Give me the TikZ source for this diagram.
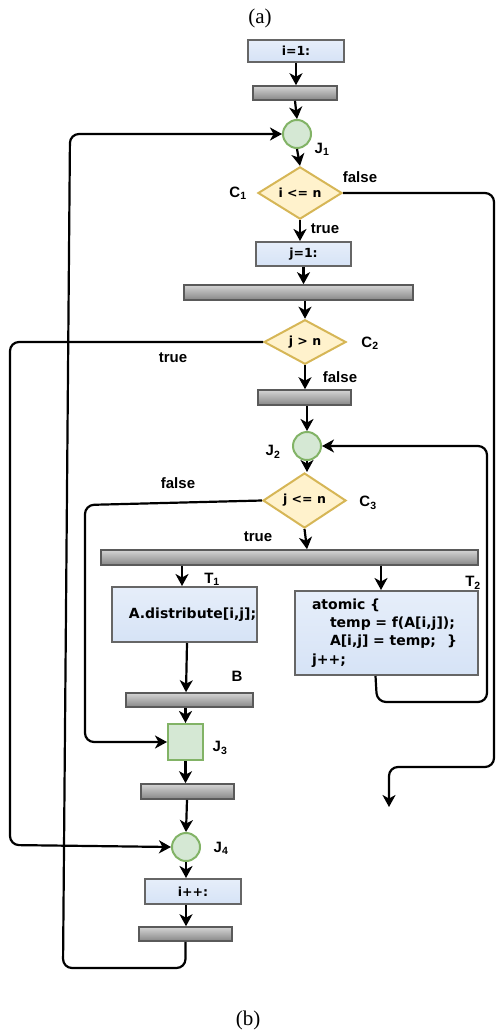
\documentclass[tikz,border=0pt]{standalone}
\usepackage{fontspec}
\usetikzlibrary{shapes.geometric,arrows.meta,calc}
\newfontfamily\boxfont{DejaVu Sans}
\newfontfamily\lblfont{Liberation Sans}
\newfontfamily\capfont{Liberation Serif}

\definecolor{procTop}{HTML}{E6EEFA}
\definecolor{procBot}{HTML}{D6E3F6}
\definecolor{procLine}{HTML}{666666}
\definecolor{barTop}{HTML}{D4D4D4}
\definecolor{barBot}{HTML}{878787}
\definecolor{barLine}{HTML}{5A5A5A}
\definecolor{juncFill}{HTML}{D5E8D4}
\definecolor{juncLine}{HTML}{82B366}
\definecolor{condFill}{HTML}{FFF2CC}
\definecolor{condLine}{HTML}{D6B656}

\tikzset{
  proc/.style={rectangle, draw=procLine, line width=2pt,
    top color=procTop, bottom color=procBot, inner sep=0pt,
    font=\fontsize{12.5}{14}\selectfont\boxfont\bfseries},
  bar/.style={rectangle, draw=barLine, line width=1.6pt,
    top color=barTop, bottom color=barBot, inner sep=0pt},
  junc/.style={circle, fill=juncFill, draw=juncLine, line width=2pt,
    minimum size=28pt, inner sep=0pt},
  sqjunc/.style={rectangle, fill=juncFill, draw=juncLine, line width=2pt,
    inner sep=0pt},
  cond/.style={diamond, fill=condFill, draw=condLine, line width=2pt,
    inner sep=0pt, font=\fontsize{12.5}{14}\selectfont\boxfont\bfseries},
  lbl/.style={inner sep=0pt, font=\fontsize{15}{17}\selectfont\lblfont\bfseries},
  captxt/.style={inner sep=0pt, font=\fontsize{21}{24}\selectfont\capfont},
  arr/.style={-{Stealth[length=12pt,width=13pt,inset=3.5pt]}, line width=2.2pt},
  wire/.style={line width=2.2pt, rounded corners=9pt},
}

\begin{document}
\begin{tikzpicture}[x=1pt,y=-1pt]
\useasboundingbox (0,0) rectangle (496,1035);

% captions
\node[captxt] (capa) at (260,18) {(a)};
\node[captxt] (capb) at (248,1020) {(b)};

% outer loop over i
\node[proc, minimum width=96pt, minimum height=22pt] (initi) at (296,51) {i=1:};
\node[bar, minimum width=84pt, minimum height=14pt] (bar1) at (295,93) {};
\node[junc] (J1) at (297,134) {};
\node[cond, minimum width=84pt, minimum height=50pt] (C1) at (300,193) {i <= n};
\node[proc, minimum width=95pt, minimum height=24pt] (initj) at (303.5,254) {j=1:};
\node[bar, minimum width=229pt, minimum height=15pt] (bar2) at (298.5,292.5) {};
\node[cond, minimum width=82pt, minimum height=42pt] (C2) at (305,342) {j > n};
\node[bar, minimum width=93pt, minimum height=15pt] (bar3) at (304.5,397.5) {};

% inner loop over j
\node[junc] (J2) at (307,446) {};
\node[cond, minimum width=83pt, minimum height=43pt] (C3) at (304.5,500.5) {j <= n};
\node[bar, minimum width=377pt, minimum height=15pt] (bar4) at (289.5,557.5) {};
\node[proc, minimum width=145pt, minimum height=55pt,
      font=\fontsize{14}{16}\selectfont\boxfont\bfseries] (T1) at (184.5,614.5)
  {\hspace*{16pt}A.distribute[i,j];};
\node[proc, minimum height=84pt, text width=163pt, inner xsep=10pt, align=left,
      font=\fontsize{14}{18.3}\selectfont\boxfont\bfseries] (T2) at (386.5,633)
  {\hspace*{7pt}atomic \{\\
   \hspace*{25pt}temp = f(A[i,j]);\\
   \hspace*{25pt}A[i,j] = temp;\hspace*{11pt}\}\\
   \hspace*{7pt}j++;};
\node[bar, minimum width=127pt, minimum height=14pt] (barB) at (189.5,700) {};
\node[sqjunc, minimum width=35pt, minimum height=36pt] (J3) at (185.5,742) {};
\node[bar, minimum width=93pt, minimum height=15pt] (bar5) at (187.5,791.5) {};
\node[junc] (J4) at (186,847) {};
\node[proc, minimum width=96pt, minimum height=25pt] (inci) at (193,891.5) {i++:};
\node[bar, minimum width=93pt, minimum height=14pt] (bar6) at (185.5,934) {};

% labels
\node[lbl] (lJ1) at (322,149) {J\textsubscript{1}};
\node[lbl] (lC1) at (238,193) {C\textsubscript{1}};
\node[lbl] (lf1) at (360,177) {false};
\node[lbl] (lt1) at (325,229) {true};
\node[lbl] (lC2) at (370,343) {C\textsubscript{2}};
\node[lbl] (lt2) at (173,358) {true};
\node[lbl] (lf2) at (340,377) {false};
\node[lbl] (lJ2) at (273,452) {J\textsubscript{2}};
\node[lbl] (lC3) at (368,503) {C\textsubscript{3}};
\node[lbl] (lf3) at (178,483) {false};
\node[lbl] (lt3) at (258,537) {true};
\node[lbl] (lT1) at (212,579) {T\textsubscript{1}};
\node[lbl] (lT2) at (473,583) {T\textsubscript{2}};
\node[lbl] (lB) at (237,676) {B};
\node[lbl] (lJ3) at (220,748) {J\textsubscript{3}};
\node[lbl] (lJ4) at (221,848) {J\textsubscript{4}};

% straight flow
\draw[arr] (initi.south) -- (bar1.north -| initi.south);
\draw[arr] (bar1.south) -- (J1.north);
\draw[arr] (J1.south) -- (C1.north);
\draw[arr] (C1.south) -- (initj.north -| C1.south);
\draw[arr] (initj.south) -- (bar2.north -| initj.south);
\draw[arr] (bar2.south -| C2.north) -- (C2.north);
\draw[arr] (C2.south) -- (bar3.north -| C2.south);
\draw[arr] (bar3.south -| J2.north) -- (J2.north);
\draw[arr] (J2.south) -- (C3.north -| J2.south);
\draw[arr] (C3.south) -- (bar4.north -| 307,0);
\draw[arr] (bar4.south -| 182,0) -- (T1.north -| 182,0);
\draw[arr] (bar4.south -| 381,0) -- (T2.north -| 381,0);
\draw[arr] (T1.south -| 187,0) -- (barB.north -| 186,0);
\draw[arr] (barB.south -| J3.north) -- (J3.north);
\draw[arr] (J3.south) -- (bar5.north -| J3.south);
\draw[arr] (bar5.south -| 187,0) -- (J4.north);
\draw[arr] (J4.south) -- (inci.north -| J4.south);
\draw[arr] (inci.south -| J4.south) -- (bar6.north -| J4.south);

% back edges and exits
\coordinate (exit) at (389,807);
\draw[wire, arr] (bar6.south) -- (185.5,968) -- (63,968) -- (70,134) -- (J1.west);
\draw[wire, arr] (C1.east) -- (494,193) -- (494,767) -- (389,767) -- (exit);
\draw[wire, arr] (C2.west) -- (10,342) -- (10,845) -- (J4.west);
\draw[wire, arr] (C3.west) -- (85,505) -- (85,742) -- (J3.west);
\draw[wire, arr] ($(T2.south)+(-11,0)$) -- (377,702) -- (487,702) -- (487,446) -- (J2.east);
\end{tikzpicture}
\end{document}
